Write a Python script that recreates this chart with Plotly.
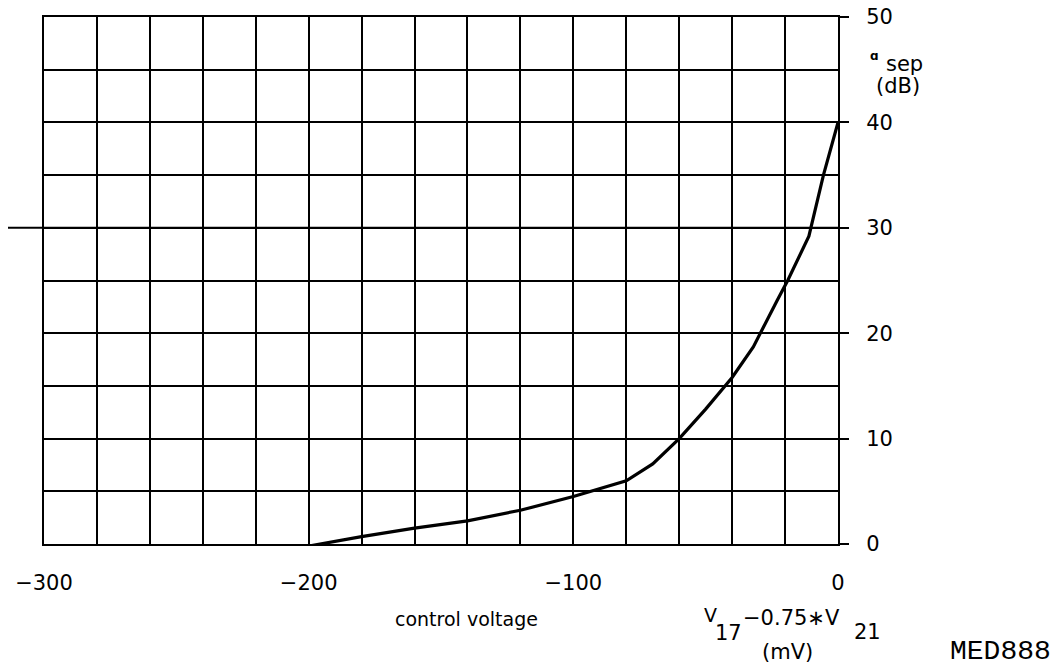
import plotly.graph_objects as go

# Data
voltage_mV = [-200, -180, -160, -140, -120, -100, -80, -70, -60, -50, -40, -32, -23, -19, -11, -5.5, 0]
sep_dB = [-0.2, 0.7, 1.5, 2.2, 3.2, 4.5, 6.0, 7.6, 10.0, 12.8, 15.8, 18.7, 23.1, 25.0, 29.2, 35.0, 40.0]

x_ticks = [-300, -200, -100, 0]
x_ticktext = ["\u2212300", "\u2212200", "\u2212100", "0"]
y_ticks = [0, 10, 20, 30, 40, 50]

FONT = "DejaVu Sans"
OFF = 8  # page body margin
W, H = 1062 - OFF, 668 - OFF
L, R, T, B = 44 - OFF, 224, 17 - OFF, 124
PW, PH = W - L - R, H - T - B


def px(xp):
    return (xp - OFF - L) / PW


def py(yp):
    return (H - B - (yp - OFF)) / PH


fig = go.Figure()
fig.add_trace(go.Scatter(x=voltage_mV, y=sep_dB, mode="lines",
                         line=dict(color="black", width=3.2), showlegend=False,
                         hoverinfo="skip"))

fig.update_layout(
    width=W, height=H,
    margin=dict(l=L, r=R, t=T, b=B, autoexpand=False),
    paper_bgcolor="white", plot_bgcolor="white",
    font=dict(family=FONT, size=21, color="black"),
    xaxis=dict(range=[-300, 0], tickvals=x_ticks, ticktext=x_ticktext,
               showgrid=True, gridcolor="black", gridwidth=2,
               minor=dict(dtick=20, tick0=0, showgrid=True, gridcolor="black", gridwidth=2),
               showline=True, linecolor="black", linewidth=2, mirror=True,
               ticks="", ticklabelstandoff=19, zeroline=False, automargin=False,
               ticklabeloverflow="allow",
               tickfont=dict(family=FONT, size=21)),
    yaxis=dict(range=[0, 50], tickvals=y_ticks, side="right",
               showgrid=True, gridcolor="black", gridwidth=2,
               minor=dict(dtick=5, tick0=0, showgrid=True, gridcolor="black", gridwidth=2),
               showline=True, linecolor="black", linewidth=2, mirror=True,
               ticks="outside", ticklen=9, tickwidth=2, tickcolor="black",
               ticklabelstandoff=13, zeroline=False, automargin=False,
               ticklabeloverflow="allow",
               tickfont=dict(family=FONT, size=21)),
)

fig.add_shape(type="line", xref="paper", yref="y", x0=-L / PW, x1=1, y0=30, y1=30,
              line=dict(color="black", width=2))


def label(text, x, y, size, xanchor="center", family=FONT):
    fig.add_annotation(text=text, x=px(x), y=py(y), xref="paper", yref="paper",
                       xanchor=xanchor, yanchor="middle", showarrow=False,
                       font=dict(family=family, size=size, color="black"))


# y-axis title
label("<b>\u0251</b>", 874, 56, 12)
label("sep", 884, 64, 21, xanchor="left")
label("(dB)", 898, 86, 21)
# x-axis titles
label("control voltage", 466, 619, 19)
label("V", 702, 615, 19, xanchor="left")
label("17", 713, 633, 21, xanchor="left")
label("\u22120.75\u2217V", 741, 618, 21, xanchor="left")
label("21", 852, 632, 21, xanchor="left")
label("(mV)", 787, 652, 21)
# figure code
label("MED888", 1000, 651, 28, family="Liberation Mono")

fig.write_html("out.html")
